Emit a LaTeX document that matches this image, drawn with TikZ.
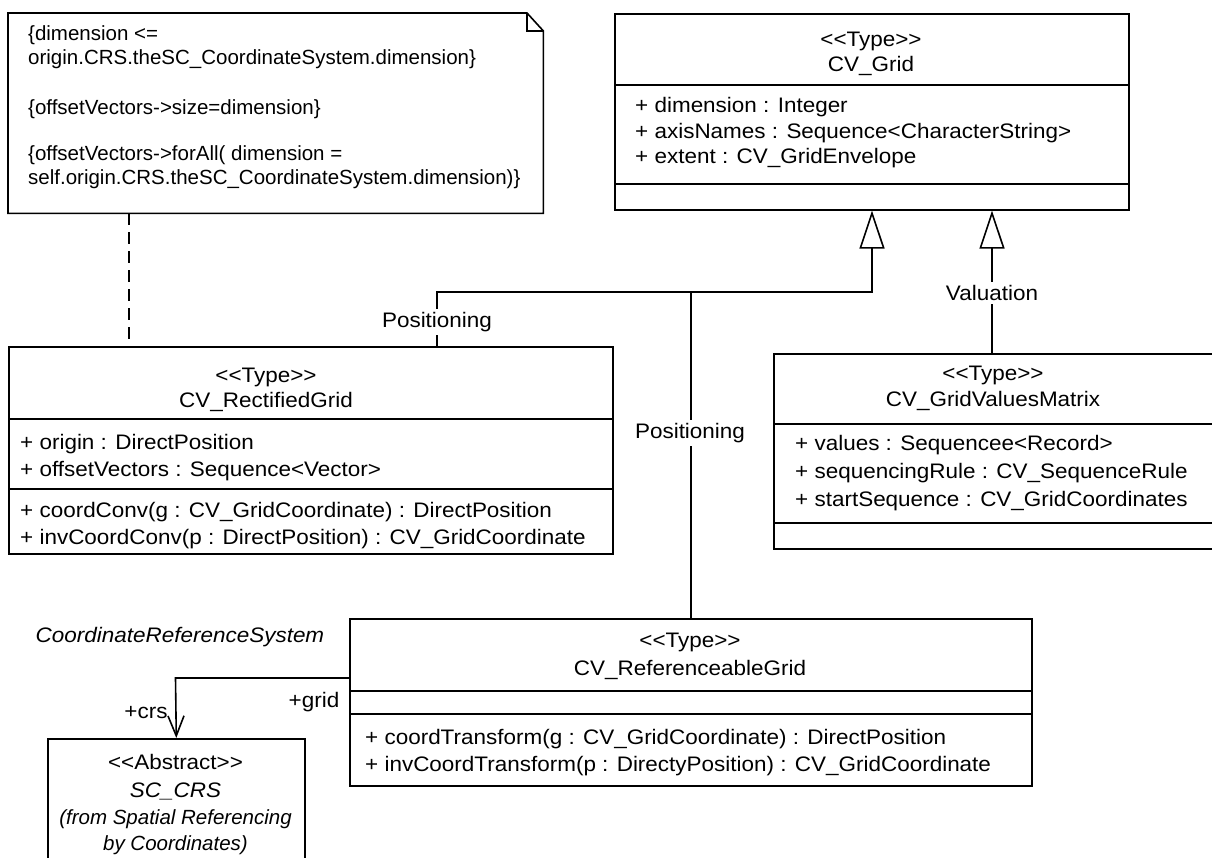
\documentclass[tikz,border=0pt]{standalone}
\usepackage{fontspec}
\setmainfont[Ligatures=TeXOff, FakeStretch=1.07]{Liberation Sans}
\newfontfamily\narrowfont[Ligatures=TeXOff]{Liberation Sans}
\usetikzlibrary{arrows.meta}
\newcommand\umlfont{\fontsize{21}{25}\selectfont}
\newcommand\notetext{\narrowfont\fontsize{20.5}{25}\selectfont}
\begin{document}
\begin{tikzpicture}[x=1pt, y=-1pt, line join=miter,
  ln/.style={line width=1.6pt},
  box/.style={draw, line width=1.6pt, inner sep=0pt, anchor=north west},
  txt/.style={inner sep=0pt, font=\umlfont},
  tl/.style={txt, anchor=base west},
  tc/.style={txt, anchor=base},
  nl/.style={inner sep=0pt, font=\notetext, anchor=base west},
  lbl/.style={txt, fill=white, inner sep=3pt},
  gen/.style={ln, -{Triangle[open, length=38pt, width=25pt]}},
  assoc/.style={ln, -{Straight Barb[length=20pt, width=16pt]}},
  dep/.style={ln, dash pattern=on 12pt off 7pt}]
\useasboundingbox (0,0) rectangle (1212,857);

% constraint note with folded corner
\node[inner sep=0pt, minimum width=535pt, minimum height=200pt, anchor=north west] (note) at (8,13) {};
\draw[ln] (note.north west) -- (527,13) -- (note.north east |- 0,31) -- (note.south east) -- (note.south west) -- cycle;
\draw[ln] (527,13) -- (527,31) -- (note.north east |- 0,31);
\node[nl] (n1) at (28,40) {\{dimension <=};
\node[nl] (n2) at (28,64) {origin.CRS.theSC\_CoordinateSystem.dimension\}};
\node[nl] (n3) at (28,114) {\{offsetVectors->size=dimension\}};
\node[nl] (n4) at (28,160) {\{offsetVectors->forAll( dimension =};
\node[nl] (n5) at (28,184) {self.origin.CRS.theSC\_CoordinateSystem.dimension)\}};

% CV_Grid
\node[box, minimum width=514pt, minimum height=196pt] (grid) at (614,13) {};
\draw[ln] (grid.west |- 0,85) -- (grid.east |- 0,85);
\draw[ln] (grid.west |- 0,184) -- (grid.east |- 0,184);
\node[tc] (g1) at (871,46.5) {<<Type>>};
\node[tc] (g2) at (871,71) {CV\_Grid};
\node[tl] (g3) at (635,112) {+ dimension : Integer};
\node[tl] (g4) at (635,138) {+ axisNames : Sequence<CharacterString>};
\node[tl] (g5) at (635,163) {+ extent : CV\_GridEnvelope};

% CV_RectifiedGrid
\node[box, minimum width=604pt, minimum height=207pt] (rect) at (8,346) {};
\draw[ln] (rect.west |- 0,419) -- (rect.east |- 0,419);
\draw[ln] (rect.west |- 0,489) -- (rect.east |- 0,489);
\node[tc] (r1) at (266,382) {<<Type>>};
\node[tc] (r2) at (266,407) {CV\_RectifiedGrid};
\node[tl] (r3) at (20,449) {+ origin : DirectPosition};
\node[tl] (r4) at (20,476) {+ offsetVectors : Sequence<Vector>};
\node[tl] (r5) at (20,517) {+ coordConv(g : CV\_GridCoordinate) : DirectPosition};
\node[tl] (r6) at (20,544) {+ invCoordConv(p : DirectPosition) : CV\_GridCoordinate};

% CV_GridValuesMatrix
\node[box, minimum width=441pt, minimum height=195pt] (vm) at (773,353) {};
\draw[ln] (vm.west |- 0,424) -- (vm.east |- 0,424);
\draw[ln] (vm.west |- 0,523) -- (vm.east |- 0,523);
\node[tc] (v1) at (993,380) {<<Type>>};
\node[tc] (v2) at (993,406) {CV\_GridValuesMatrix};
\node[tl] (v3) at (795,450) {+ values : Sequencee<Record>};
\node[tl] (v4) at (795,478) {+ sequencingRule : CV\_SequenceRule};
\node[tl] (v5) at (795,506) {+ startSequence : CV\_GridCoordinates};

% CV_ReferenceableGrid
\node[box, minimum width=682pt, minimum height=167pt] (ref) at (349,618) {};
\draw[ln] (ref.west |- 0,691) -- (ref.east |- 0,691);
\draw[ln] (ref.west |- 0,714) -- (ref.east |- 0,714);
\node[tc] (f1) at (690,647) {<<Type>>};
\node[tc] (f2) at (690,675) {CV\_ReferenceableGrid};
\node[tl] (f3) at (365,744) {+ coordTransform(g : CV\_GridCoordinate) : DirectPosition};
\node[tl] (f4) at (365,771) {+ invCoordTransform(p : DirectyPosition) : CV\_GridCoordinate};

% SC_CRS
\node[box, minimum width=257pt, minimum height=130pt] (crs) at (47,738) {};
\node[tc] (c1) at (175.5,769) {<<Abstract>>};
\node[tc] (c2) at (175.5,797) {\itshape SC\_CRS};
\node[tc, font=\notetext] (c3) at (175.5,824) {\itshape (from Spatial Referencing};
\node[tc, font=\notetext] (c4) at (175.5,850) {\itshape by Coordinates)};
\node[txt] (crsname) at (180,637) {\itshape CoordinateReferenceSystem};

% generalizations
\draw[gen] (rect.north -| 437,0) -- (437,292) -- (872,292) -- (grid.south -| 872,0);
\draw[ln] (ref.north) -- (ref.north |- 0,292);
\draw[gen] (vm.north -| 992,0) -- (grid.south -| 992,0);
\node[lbl] (pos1) at (437,322) {Positioning};
\node[lbl] (pos2) at (690,433) {Positioning};
\node[lbl] (val) at (992,293) {Valuation};

% note anchor
\draw[dep] (note.south -| 129,0) -- (rect.north -| 129,0);

% association
\draw[assoc] (ref.west |- 0,678) -- (175.5,678) -- (crs.north);
\node[txt] (rcrs) at (146,713) {+crs};
\node[txt] (rgrid) at (314,702) {+grid};
\end{tikzpicture}
\end{document}
